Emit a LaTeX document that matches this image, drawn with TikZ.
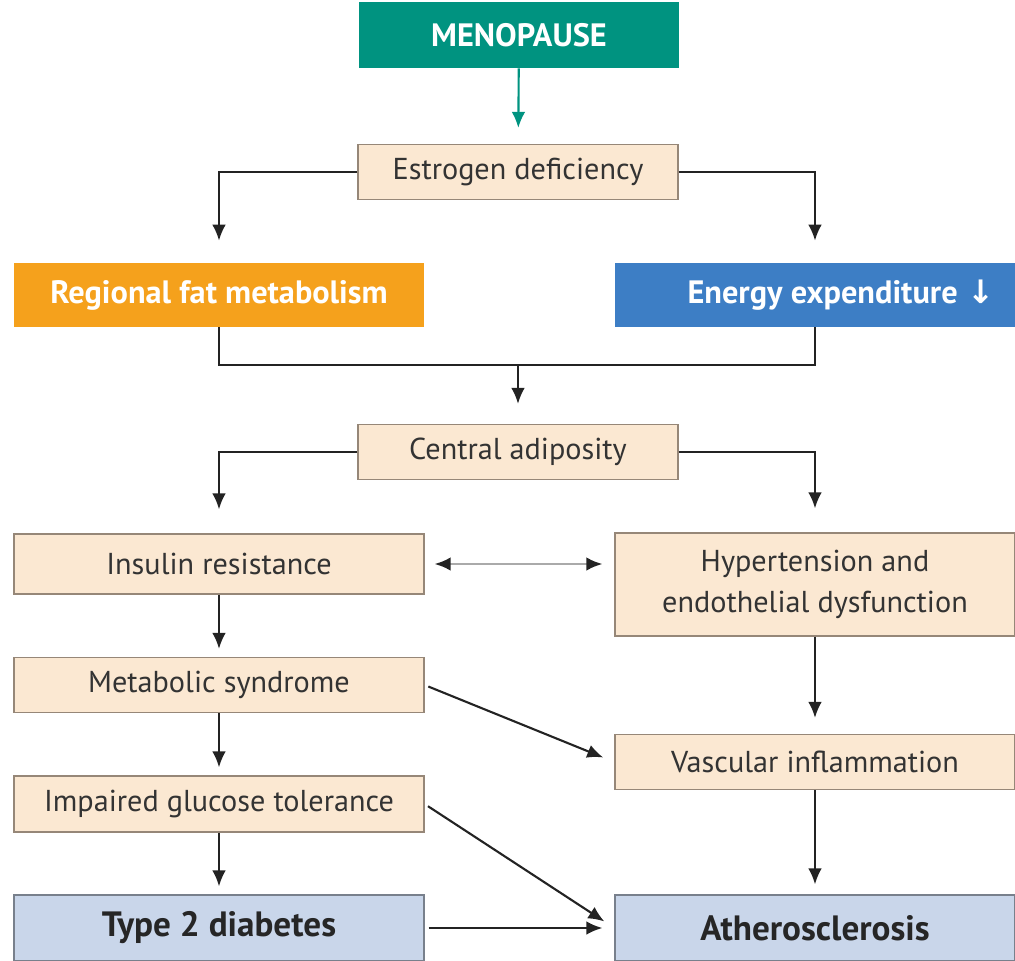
\documentclass[tikz,border=0pt]{standalone}
\usepackage{fontspec}
\setmainfont{PT Sans}
\newfontfamily\arrowFont{DejaVu Sans}
\usetikzlibrary{arrows.meta}
\tikzstyle{flowChart} = [x = 0.025cm, y = -0.025cm]
\definecolor{menoColor}{RGB}{0,147,128}
\definecolor{stageColor}{RGB}{251,232,210}
\definecolor{stageLine}{RGB}{150,135,120}
\definecolor{fatColor}{RGB}{245,161,28}
\definecolor{energyColor}{RGB}{61,126,197}
\definecolor{outcomeColor}{RGB}{201,214,234}
\definecolor{outcomeLine}{RGB}{120,128,140}
\definecolor{arrowColor}{RGB}{35,35,35}
\definecolor{twoWayColor}{RGB}{170,170,170}
\tikzstyle{stageText} = [font=\fontsize{21.5}{29}\selectfont, text=black!80]
\tikzstyle{stageBox} = [draw=stageLine, fill=stageColor, line width=0.8pt, inner sep=0pt, align=center, stageText]
\tikzstyle{menoBox} = [fill=menoColor, text=white, inner sep=0pt, font=\fontsize{23}{26}\selectfont\bfseries]
\tikzstyle{fatBox} = [fill=fatColor, text=white, inner sep=0pt, font=\fontsize{23}{26}\selectfont\bfseries]
\tikzstyle{energyBox} = [fill=energyColor, text=white, inner sep=0pt, font=\fontsize{23}{26}\selectfont\bfseries]
\tikzstyle{outcomeBox} = [draw=outcomeLine, fill=outcomeColor, line width=0.8pt, inner sep=0pt, text=black!85, font=\fontsize{25}{28}\selectfont\bfseries]
\tikzstyle{flowArrow} = [draw=arrowColor, line width=1.5pt, -{Latex[length=4mm, width=3.4mm]}]
\tikzstyle{flowLine} = [draw=arrowColor, line width=1.5pt]
\tikzstyle{menoArrow} = [draw=menoColor, line width=1.5pt, -{Latex[length=4mm, width=3.4mm]}]
\tikzstyle{twoWayArrow} = [draw=twoWayColor, line width=1.7pt, {Latex[length=4mm, width=3.4mm, color=arrowColor]}-{Latex[length=4mm, width=3.4mm, color=arrowColor]}]
\newcommand{\leftWidth}{10.25cm}
\newcommand{\rightWidth}{10cm}
\newcommand{\midWidth}{8cm}
\begin{document}
\begin{tikzpicture}[flowChart]
  \useasboundingbox (0,0) rectangle (1015,961);
  % top of the chart
  \node [menoBox, minimum width=\midWidth, minimum height=1.65cm] (meno) at (519,35) {MENOPAUSE};
  \node [stageBox, minimum width=\midWidth, minimum height=1.375cm] (estrogen) at (518,172) {Estrogen deficiency};
  \node [fatBox, minimum width=\leftWidth, minimum height=1.6cm] (regional) at (219,295) {Regional fat metabolism};
  \node [energyBox, minimum width=\rightWidth, minimum height=1.6cm] (energy) at (815,295) {\hspace{1.3cm}Energy expenditure\hspace{0.3em}{\arrowFont\bfseries ↓}};
  \coordinate (merge) at (518,365);
  \node [stageBox, minimum width=\midWidth, minimum height=1.375cm] (central) at (518,452) {Central adiposity};
  % left column
  \node [stageBox, minimum width=\leftWidth, minimum height=1.5cm] (insulin) at (219,564) {Insulin resistance};
  \node [stageBox, minimum width=\leftWidth, minimum height=1.375cm] (metabolic) at (219,685) {Metabolic syndrome};
  \node [stageBox, minimum width=\leftWidth, minimum height=1.4cm] (impaired) at (219,804) {Impaired glucose tolerance};
  \node [outcomeBox, minimum width=\leftWidth, minimum height=1.65cm] (type) at (219,928) {Type 2 diabetes};
  % right column
  \node [stageBox, minimum width=\rightWidth, minimum height=2.575cm] (hyper) at (815,584.5) {Hypertension and\\endothelial dysfunction};
  \node [stageBox, minimum width=\rightWidth, minimum height=1.375cm] (vascular) at (815,762) {Vascular inflammation};
  \node [outcomeBox, minimum width=\rightWidth, minimum height=1.65cm] (athero) at (815,928) {Atherosclerosis};
  % connectors
  \draw [menoArrow, shorten >=4mm] (meno) -- (estrogen);
  \draw [flowArrow, shorten >=5.5mm] (estrogen.west) -| (regional.north);
  \draw [flowArrow, shorten >=5.5mm] (estrogen.east) -| (energy.north);
  \draw [flowLine] (regional.south) |- (merge) -| (energy.south);
  \draw [flowArrow, shorten >=5mm] (merge) -- (central.north);
  \draw [flowArrow, shorten >=6mm] (central.west) -| (insulin.north);
  \draw [flowArrow, shorten >=6mm] (central.east) -| (hyper.north);
  \draw [twoWayArrow, shorten <=2.5mm, shorten >=3mm] (insulin.east) -- (insulin.east -| hyper.west);
  \draw [flowArrow, shorten >=2mm] (insulin) -- (metabolic);
  \draw [flowArrow, shorten >=2mm] (metabolic) -- (impaired);
  \draw [flowArrow, shorten >=2mm] (impaired) -- (type);
  \draw [flowArrow, shorten >=4mm] (hyper) -- (vascular);
  \draw [flowArrow, shorten >=2.5mm] (vascular) -- (athero);
  \draw [flowArrow, shorten <=1mm, shorten >=3mm] (metabolic.east) -- (vascular.west);
  \draw [flowArrow, shorten <=1mm, shorten >=3mm] (impaired.east) -- (athero.west);
  \draw [flowArrow, shorten <=1mm, shorten >=3mm] (type) -- (athero);
\end{tikzpicture}
\end{document}
